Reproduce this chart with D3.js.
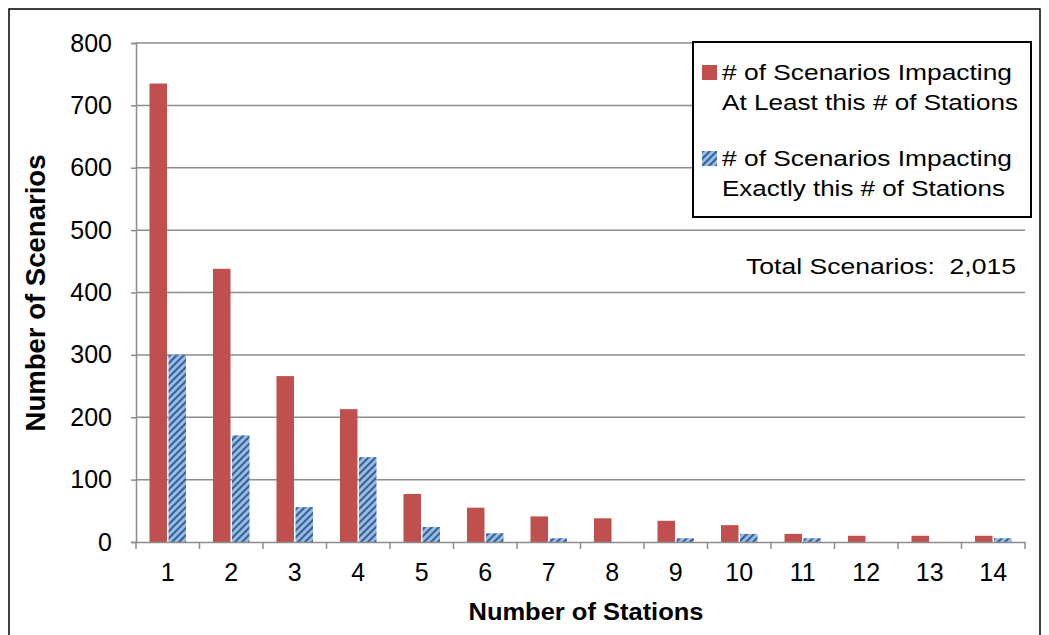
<!DOCTYPE html>
<html><head><meta charset="utf-8">
<script src="https://cdn.jsdelivr.net/npm/d3@7"></script>
<style>body{margin:0;background:#fff;font-family:"Liberation Sans",Arial,sans-serif}</style>
</head><body><svg id="c" width="1049" height="635"></svg>
<script>
const categories = ["1","2","3","4","5","6","7","8","9","10","11","12","13","14"];
const atLeast = [735, 438, 266, 213, 77, 55, 41, 38, 34, 27, 13, 10, 10, 10];
const exactly = [300, 171, 56, 136, 24, 14, 6, 0, 6, 13, 6, 0, 0, 6];
const seriesNames = ["# of Scenarios Impacting|At Least this # of Stations", "# of Scenarios Impacting|Exactly this # of Stations"];
const yTicks = [0,100,200,300,400,500,600,700,800];

const svg = d3.select("#c");
const m = {l:136, r:1025, t:43, b:542};
const defs = svg.append("defs");
const pat = defs.append("pattern").attr("id","hatch").attr("patternUnits","userSpaceOnUse")
  .attr("width",7).attr("height",7);
pat.append("rect").attr("width",7).attr("height",7).attr("fill","#9DBCE0");
pat.append("path").attr("d","M-2,9 L9,-2 M-2,2 L2,-2 M5,9 L9,5").attr("stroke","#3565A0").attr("stroke-width",2.2);

svg.append("rect").attr("x",9).attr("y",9).attr("width",1031).attr("height",640)
  .attr("fill","none").attr("stroke","#000").attr("stroke-width",1.5);

const x = d3.scaleBand().domain(categories).range([m.l,m.r]);
const y = d3.scaleLinear().domain([0,800]).range([m.b,m.t]);

svg.append("g").selectAll("line").data(yTicks.slice(1)).join("line")
  .attr("x1",m.l).attr("x2",m.r).attr("y1",d=>y(d)).attr("y2",d=>y(d))
  .attr("stroke","#8C8C8C").attr("stroke-width",1.5);

const bw = 17.5, gap = 1.5;
const bx = (c,i)=> x(c) + x.bandwidth()/2 - bw - gap/2 + i*(bw+gap);
svg.append("g").selectAll("rect").data(categories).join("rect")
  .attr("x",c=>bx(c,0)).attr("width",bw)
  .attr("y",(c,i)=>y(atLeast[i])).attr("height",(c,i)=>y(0)-y(atLeast[i]))
  .attr("fill","#C0504D");
svg.append("g").selectAll("rect").data(categories).join("rect")
  .attr("x",c=>bx(c,1)).attr("width",bw)
  .attr("y",(c,i)=>y(exactly[i])).attr("height",(c,i)=>y(0)-y(exactly[i]))
  .attr("fill","url(#hatch)");

const ya = svg.append("g").attr("transform",`translate(${m.l},0)`)
  .call(d3.axisLeft(y).tickValues(yTicks).tickSize(5).tickPadding(19).tickFormat(d3.format("d")));
ya.select(".domain").attr("stroke","#8C8C8C").attr("stroke-width",1.5);
ya.selectAll(".tick line").attr("stroke","#8C8C8C").attr("stroke-width",1.5);
ya.selectAll("text").attr("font-size",25).attr("fill","#000").attr("font-family","Liberation Sans, Arial");

const xa = svg.append("g").attr("transform",`translate(0,${m.b})`)
  .call(d3.axisBottom(x).tickSize(0).tickPadding(21));
xa.select(".domain").attr("stroke","#8C8C8C").attr("stroke-width",1.5);
xa.selectAll("text").attr("font-size",25).attr("fill","#000").attr("font-family","Liberation Sans, Arial");
const bounds = categories.map(c=>x(c)).concat([m.r]);
xa.append("g").selectAll("line").data(bounds).join("line")
  .attr("x1",d=>d).attr("x2",d=>d).attr("y1",0).attr("y2",7)
  .attr("stroke","#8C8C8C").attr("stroke-width",1.5);

svg.append("text").attr("x",586).attr("y",620).attr("text-anchor","middle")
  .attr("font-size",24).attr("font-weight","bold")
  .attr("textLength",235).attr("lengthAdjust","spacingAndGlyphs").text("Number of Stations");
svg.append("text").attr("transform",`translate(45,293) rotate(-90)`).attr("text-anchor","middle")
  .attr("font-size",27).attr("font-weight","bold")
  .attr("textLength",277).attr("lengthAdjust","spacingAndGlyphs").text("Number of Scenarios");

const lg = svg.append("g");
lg.append("rect").attr("x",693).attr("y",42).attr("width",338).attr("height",175)
  .attr("fill","#fff").attr("stroke","#000").attr("stroke-width",2);
const fills = ["#C0504D","url(#hatch)"];
const ly = [65, 151];
const lens = [[290,296],[290,283]];
seriesNames.forEach((s,i)=>{
  lg.append("rect").attr("x",702).attr("y",ly[i]).attr("width",15).attr("height",15).attr("fill",fills[i]);
  s.split("|").forEach((t,j)=>{
    lg.append("text").attr("x",722).attr("y",ly[i]+15+j*30).attr("font-size",22).attr("fill","#000")
      .attr("textLength",lens[i][j]).attr("lengthAdjust","spacingAndGlyphs").text(t);
  });
});

svg.append("text").attr("x",746).attr("y",274).attr("font-size",22)
  .attr("textLength",270).attr("lengthAdjust","spacingAndGlyphs")
  .attr("xml:space","preserve").text("Total Scenarios:  2,015");
</script></body></html>
